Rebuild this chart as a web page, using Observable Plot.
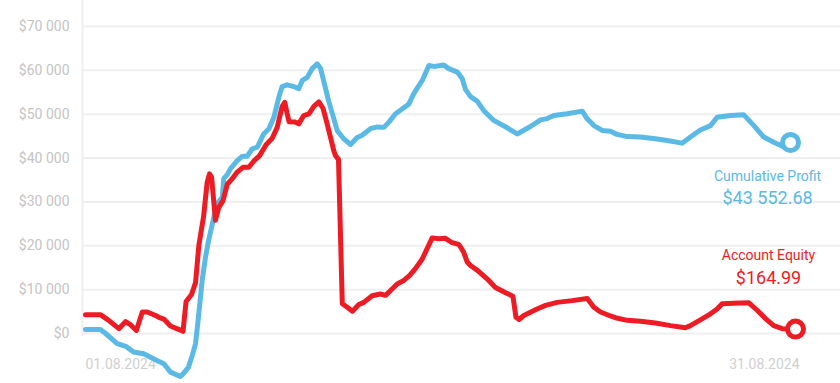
<!DOCTYPE html>
<html>
<head>
<meta charset="utf-8">
<script src="https://cdn.jsdelivr.net/npm/d3@7"></script>
<script src="https://cdn.jsdelivr.net/npm/@observablehq/plot@0.6"></script>
<style>
  html, body { margin: 0; padding: 0; background: #ffffff; }
  #chart svg { display: block; }
</style>
</head>
<body>
<div id="chart"></div>
<script>
// [day of August 2024, value in USD]
const cumulativeProfit = [
  [1.00, 900], [1.63, 900], [1.85, 0], [2.34, -2300], [2.73, -3000], [3.03, -4200], [3.46, -4600],
  [3.75, -5400], [4.04, -6200], [4.31, -6900], [4.59, -8800], [5.01, -9800], [5.14, -9100],
  [5.35, -7700], [5.51, -5000], [5.65, -2300], [5.77, 3600], [5.93, 12100], [6.07, 17400],
  [6.20, 21200], [6.41, 26200], [6.56, 29600], [6.78, 31100], [6.84, 35300], [7.00, 36300],
  [7.13, 37600], [7.41, 39400], [7.62, 40400], [7.83, 40400], [8.04, 42100], [8.26, 42500],
  [8.53, 45500], [8.75, 46700], [8.96, 49300], [9.17, 53900], [9.31, 56300], [9.52, 56700],
  [9.80, 56300], [10.01, 55800], [10.16, 57700], [10.37, 58400], [10.58, 60400], [10.79, 61500],
  [10.93, 60500], [11.27, 53100], [11.64, 46200], [11.91, 44400], [12.20, 43100], [12.48, 44700],
  [12.69, 45200], [13.04, 46700], [13.33, 47100], [13.61, 47000], [13.82, 48200], [14.10, 50100],
  [14.38, 51200], [14.66, 52300], [14.87, 54700], [15.23, 57700], [15.51, 61100], [15.72, 60900],
  [16.14, 61200], [16.35, 60400], [16.71, 59600], [16.92, 58100], [17.06, 55600], [17.27, 54000],
  [17.55, 53000], [17.83, 50800], [18.11, 49300], [18.25, 48600], [18.82, 46900], [19.24, 45500],
  [19.80, 47200], [20.23, 48700], [20.51, 49000], [20.79, 49700], [21.35, 50100], [21.99, 50700],
  [22.19, 49000], [22.48, 47400], [22.83, 46300], [23.18, 46100], [23.46, 45400], [23.89, 44900],
  [24.45, 44800], [25.08, 44400], [25.58, 44000], [26.21, 43400], [26.56, 44800], [26.98, 46400],
  [27.41, 47400], [27.69, 49300], [28.25, 49700], [28.81, 49900], [29.24, 47400], [29.66, 44800],
  [30.08, 43600], [30.50, 42600], [30.79, 43553]
];
const accountEquity = [
  [1.00, 4300], [1.63, 4300], [1.98, 3000], [2.41, 1100], [2.69, 2700], [2.90, 2000], [3.15, 700],
  [3.40, 4900], [3.61, 4900], [3.96, 4100], [4.10, 3700], [4.31, 3300], [4.59, 1700], [4.91, 1000],
  [5.12, 500], [5.25, 7300], [5.48, 8900], [5.65, 11600], [5.79, 20100], [5.99, 26700], [6.14, 34400],
  [6.24, 36400], [6.33, 35600], [6.49, 25800], [6.63, 28700], [6.81, 30300], [6.99, 34000],
  [7.20, 35300], [7.41, 36800], [7.65, 37900], [7.90, 37900], [8.14, 39500], [8.35, 40500],
  [8.64, 43100], [8.89, 44500], [9.10, 47000], [9.31, 51800], [9.42, 52700], [9.54, 49700],
  [9.60, 48300], [9.87, 48200], [10.01, 47800], [10.22, 49700], [10.44, 50100], [10.65, 51800],
  [10.86, 52800], [11.04, 51300], [11.21, 47800], [11.35, 44800], [11.49, 41700], [11.56, 40600],
  [11.69, 39700], [11.85, 6800], [12.06, 6000], [12.28, 5100], [12.55, 6600], [12.76, 7100],
  [13.11, 8600], [13.46, 9000], [13.68, 8700], [13.89, 9800], [14.17, 11300], [14.45, 12100],
  [14.69, 13200], [14.94, 14800], [15.23, 17000], [15.44, 19400], [15.65, 21800], [15.93, 21600],
  [16.21, 21700], [16.46, 20800], [16.76, 20300], [16.84, 19800], [16.98, 18500], [17.13, 16300],
  [17.27, 15500], [17.56, 14400], [18.04, 12100], [18.32, 10500], [18.75, 9300], [19.06, 8500],
  [19.19, 3700], [19.32, 3200], [19.52, 4100], [20.08, 5600], [20.44, 6400], [20.93, 7100],
  [21.56, 7500], [22.20, 8000], [22.48, 6000], [22.76, 4900], [23.18, 4000], [23.39, 3600],
  [23.89, 3000], [24.45, 2800], [25.08, 2400], [25.72, 1800], [26.35, 1300], [26.56, 1800],
  [26.98, 3100], [27.41, 4500], [27.69, 5600], [27.90, 6800], [28.39, 6900], [29.03, 7000],
  [29.38, 5300], [29.73, 3400], [30.08, 1800], [30.44, 1100], [31.00, 1000]
];
const yTicks = [0, 10000, 20000, 30000, 40000, 50000, 60000, 70000];
const yTickLabels = ["$0", "$10 000", "$20 000", "$30 000", "$40 000", "$50 000", "$60 000", "$70 000"];
const xLabelDays = [1, 31];
const xLabels = ["01.08.2024", "31.08.2024"];
const seriesNames = ["Cumulative Profit", "Account Equity"];
const seriesTotals = ["$43 552.68", "$164.99"];

const BLUE = "#5ab9e5";
const RED = "#ed1c24";
const GRID = "#efefef";

const lastProfit = cumulativeProfit[cumulativeProfit.length - 1];
const lastEquity = accountEquity[accountEquity.length - 1];

const chart = Plot.plot({
  width: 840,
  height: 383,
  marginLeft: 82,
  marginRight: 0,
  marginTop: 4.07,
  marginBottom: 6.14,
  style: { fontFamily: "Roboto, sans-serif", background: "#ffffff" },
  x: { domain: [1, 31], range: [85, 795], axis: null },
  y: { domain: [-10000, 75000], axis: null },
  marks: [
    Plot.ruleY(yTicks, { stroke: GRID, strokeWidth: 2 }),
    Plot.frame({ anchor: "left", stroke: GRID, strokeWidth: 2, insetTop: -5, insetBottom: 42 }),
    Plot.axisY({
      ticks: yTicks,
      tickFormat: (d, i) => yTickLabels[i],
      tickSize: 0,
      tickPadding: 13,
      fontSize: 14,
      color: "#c4c4c4"
    }),
    Plot.text([xLabelDays[0]], {
      x: d => d,
      text: () => xLabels[0],
      frameAnchor: "bottom",
      lineAnchor: "middle",
      dy: -13,
      textAnchor: "start",
      fontSize: 14,
      fill: "#cfcfcf"
    }),
    Plot.text([xLabelDays[1]], {
      x: d => d,
      text: () => xLabels[1],
      frameAnchor: "bottom",
      lineAnchor: "middle",
      dy: -13,
      dx: 4,
      textAnchor: "end",
      fontSize: 14,
      fill: "#cfcfcf"
    }),
    Plot.line(cumulativeProfit, {
      x: d => d[0], y: d => d[1], stroke: BLUE, strokeWidth: 5,
      strokeLinejoin: "round", strokeLinecap: "round"
    }),
    Plot.line(accountEquity, {
      x: d => d[0], y: d => d[1], stroke: RED, strokeWidth: 5,
      strokeLinejoin: "round", strokeLinecap: "round"
    }),
    Plot.dot([lastProfit], { x: d => d[0], y: d => d[1], r: 8, stroke: BLUE, strokeWidth: 5, fill: "#ffffff" }),
    Plot.dot([lastEquity], { x: d => d[0], y: d => d[1], r: 8, stroke: RED, strokeWidth: 5, fill: "#ffffff" }),
    Plot.text([lastProfit], { x: d => d[0], y: d => d[1], text: () => seriesNames[0], dx: -23, dy: 34, fontSize: 14, fill: BLUE }),
    Plot.text([lastProfit], { x: d => d[0], y: d => d[1], text: () => seriesTotals[0], dx: -23, dy: 56, fontSize: 18, fill: BLUE }),
    Plot.text([lastEquity], { x: d => d[0], y: d => d[1], text: () => seriesNames[1], dx: -27, dy: -74, fontSize: 14, fill: RED }),
    Plot.text([lastEquity], { x: d => d[0], y: d => d[1], text: () => seriesTotals[1], dx: -27, dy: -51, fontSize: 18, fill: RED })
  ]
});
document.getElementById("chart").appendChild(chart);
</script>
</body>
</html>
